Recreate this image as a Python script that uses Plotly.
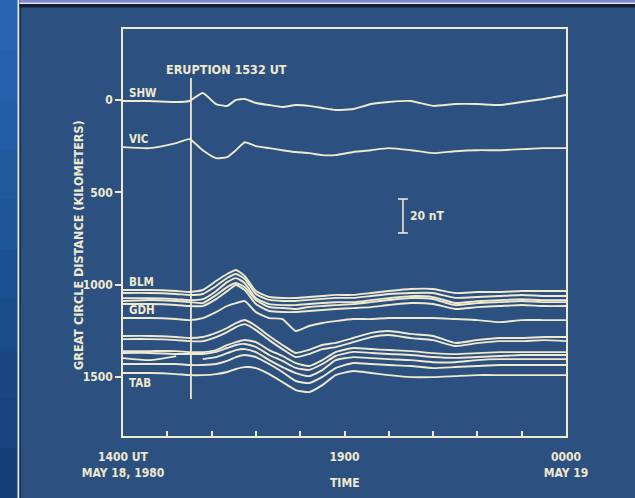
import plotly.graph_objects as go

# ---- data -------------------------------------------------------------
# sample times, hours after 1400 UT on 18 May 1980
TIME_H = [0, 0.6, 1.2, 1.5, 1.8, 2.1, 2.35, 2.55, 2.75, 3.0, 3.3, 3.6, 3.9, 4.2,
          4.5, 4.8, 5.2, 5.6, 6.0, 6.5, 7.0, 7.5, 8.0, 8.5, 9.0, 9.5, 10.0]

ERUPTION_H = 1 + 32 / 60          # 1532 UT

# great-circle distance of each magnetometer (km)
STATION_KM = {
    "SHW": 5, "VIC": 255,
    "BLM": 1029, "S1045": 1045, "S1073": 1073, "S1089": 1089, "S1105": 1105,
    "GDH": 1181, "S1278": 1278, "S1295": 1295,
    "S1360": 1360, "S1370": 1370, "S1398": 1398, "S1430": 1430, "TAB": 1479,
}

# H-component perturbation at each station (nT)
SHW_NT = [0, 0, -0.6, 0, 4.7, -1.8, -2.9, 0.6, 1.2, -1.2, -2.4, -3.5, -2.4, -2.9,
          -4.1, -5.3, -4.7, -1.8, -0.6, 0, -2.9, -1.8, -1.8, -2.4, -0.6, 1.2, 3.5]
VIC_NT = [0, -0.6, 2.4, 4.7, -1.8, -6.5, -5.9, -1.8, 2.9, 0.6, -0.6, -1.8, -2.9, -3.5,
          -4.7, -4.7, -2.9, -1.8, -0.6, -1.8, -3.5, -2.4, -1.8, -1.8, -1.2, -0.6, -0.6]
BLM_NT = [0, 0, -0.6, -1.2, 0, 5.3, 9.4, 11.8, 8.2, -0.6, -4.1, -4.7, -4.7, -4.1,
          -3.5, -2.9, -2.9, -1.8, -0.6, 0.6, 0.6, -1.8, -1.2, -1.2, -0.6, -0.6, -0.6]
S1045_NT = [0, 0, -0.6, -1.2, -0.6, 4.1, 8.8, 11.2, 8.2, -0.6, -4.1, -4.7, -4.7, -4.1,
            -3.5, -2.9, -2.9, -1.8, -0.6, 0, 0, -2.9, -2.4, -1.8, -1.2, -1.8, -1.8]
S1073_NT = [0, 0, -0.6, -1.2, -0.6, 4.1, 9.4, 11.8, 8.8, 0, -3.5, -4.1, -4.1, -3.5,
            -2.9, -2.4, -2.4, -1.2, 0, 1.2, 0.6, -2.9, -1.8, -1.2, -0.6, -1.2, -1.2]
S1089_NT = [0, 0.6, 0, -0.6, -1.2, 3.5, 8.2, 10.6, 8.2, 0.6, -3.5, -4.1, -4.7, -3.5,
            -2.9, -2.4, -1.8, -0.6, 0.6, 1.8, 1.2, -2.4, -1.2, -0.6, 0, -0.6, -0.6]
S1105_NT = [0, 0, -0.6, -1.2, -1.2, 2.9, 7.6, 11.2, 8.2, 0, -4.1, -4.7, -4.7, -4.1,
            -3.5, -2.9, -2.4, -1.8, -0.6, 0.6, 0, -2.9, -1.8, -1.2, -0.6, -1.2, -1.2]
GDH_NT = [0, 0, -0.6, -1.2, 0, 3.5, 7.1, 8.8, 10.0, 3.5, 0, -0.6, -7.6, -4.7,
          -2.9, -1.8, -0.6, -0.6, 0, 0, 0, -0.6, -1.2, -2.4, -1.2, -1.2, -1.2]
S1278_NT = [0, 0, -0.6, -1.2, -0.6, 1.8, 4.7, 7.6, 9.4, 5.9, 0, -5.3, -10.0, -8.2,
            -5.3, -4.1, -1.2, 1.8, 2.9, 1.2, 0, -4.1, -2.4, -1.2, -1.2, -0.6, -0.6]
S1295_NT = [0, 0, -0.6, -1.2, -1.2, 1.2, 4.1, 7.1, 8.8, 5.3, -0.6, -5.9, -10.6, -8.8,
            -5.9, -4.7, -1.8, 1.2, 2.4, 0.6, -0.6, -4.1, -2.4, -1.2, -1.2, -0.6, -1.2]
S1360_NT = [0, 0, 0, -0.6, -0.6, 0.6, 3.5, 5.3, 6.5, 5.3, 0.6, -2.9, -7.1, -8.8,
            -5.3, -0.6, 1.8, 1.2, 0.6, 0, -1.2, -1.8, -1.2, -0.6, -0.6, -0.6, -0.6]
S1370_NT = [0, 0, -0.6, -0.6, -0.6, 0.6, 2.9, 4.7, 5.3, 3.5, -1.2, -4.7, -8.8, -10.0,
            -6.5, -1.8, 0.6, 0, -0.6, -1.2, -2.4, -2.9, -2.4, -1.8, -1.2, -1.2, -1.2]
S1398_NT = [0, -1.2, 1.2, None, -0.6, 0.6, 2.9, 4.7, 5.3, 3.5, -1.2, -5.3, -8.8, -10.6,
            -7.1, -1.2, 0.6, 0, -0.6, -1.2, -2.4, -2.4, -1.2, -0.6, -0.6, -0.6, -0.6]
S1430_NT = [0, 0, 0, -0.6, -0.6, 0, 1.8, 4.1, 5.3, 4.1, 0, -4.7, -10.0, -11.2,
            -7.6, -2.4, 0.6, 0, -0.6, -1.2, -2.4, -1.8, -1.2, -0.6, -0.6, -0.6, -0.6]
TAB_NT = [0, 0, -0.6, -1.2, -1.2, -0.6, 0.6, 2.4, 3.5, 2.9, -0.6, -5.3, -10.0, -11.2,
          -7.1, -1.2, 1.2, 0, -1.2, -2.4, -2.4, -1.8, -1.2, -1.2, -1.2, -1.2, -1.2]

PERTURBATION_NT = {
    "SHW": SHW_NT, "VIC": VIC_NT, "BLM": BLM_NT, "S1045": S1045_NT,
    "S1073": S1073_NT, "S1089": S1089_NT, "S1105": S1105_NT, "GDH": GDH_NT,
    "S1278": S1278_NT, "S1295": S1295_NT, "S1360": S1360_NT, "S1370": S1370_NT,
    "S1398": S1398_NT, "S1430": S1430_NT, "TAB": TAB_NT,
}

LABELLED = ["SHW", "VIC", "BLM", "GDH", "TAB"]
Y_TICKS = [0, 500, 1000, 1500]
X_TICKS = list(range(11))
X_TICKTEXT = ["1400 UT<br>MAY 18, 1980", "", "", "", "", "1900",
              "", "", "", "", "0000<br>MAY 19"]

SCALE_NT = 20          # size of the scale bar
KM_PER_NT = 9.2        # vertical plotting scale of the magnetograms

# ---- style ------------------------------------------------------------
INK = "#efe9cf"
BG = "#2c5080"
FONT = "Liberation Sans Narrow, DejaVu Sans Condensed, Arial Narrow, sans-serif"

W, H = 635, 498
ML, MR, MT, MB = 123, 69, 29, 62
PW, PH = W - ML - MR, H - MT - MB


def px(x, y):
    """page pixel -> paper coordinates (for the slide decoration)"""
    return (x - ML) / PW, (H - MB - y) / PH


fig = go.Figure()

for name, km in STATION_KM.items():
    ys = [None if v is None else km - v * KM_PER_NT for v in PERTURBATION_NT[name]]
    fig.add_trace(go.Scatter(
        x=TIME_H, y=ys, mode="lines", name=name, showlegend=False,
        line=dict(color=INK, width=1.9, shape="spline", smoothing=0.5),
        connectgaps=False, hoverinfo="skip"))

# 20 nT scale bar
bar_x = 6.32
bar_mid = 628
half = SCALE_NT * KM_PER_NT / 2
fig.add_trace(go.Scatter(
    x=[bar_x, bar_x], y=[bar_mid - half, bar_mid + half], mode="lines+markers",
    line=dict(color=INK, width=1.6),
    marker=dict(symbol="line-ew", size=7, line=dict(color=INK, width=1.6)),
    showlegend=False, hoverinfo="skip"))

annotations = []
for name in LABELLED:
    above = name != "TAB"
    annotations.append(dict(
        x=0, y=STATION_KM[name], xref="x", yref="y", text=f"<b>{name}</b>",
        showarrow=False, xanchor="left", yanchor="middle", xshift=4,
        yshift=8 if above else -10, font=dict(size=11.5, color=INK, family=FONT)))

annotations += [
    dict(x=ERUPTION_H, y=-168, xref="x", yref="y", text="<b>ERUPTION 1532 UT</b>",
         showarrow=False, xanchor="left", yanchor="middle", xshift=-27,
         font=dict(size=12.5, color=INK, family=FONT)),
    dict(x=bar_x, y=bar_mid, xref="x", yref="y", text="<b>20 nT</b>",
         showarrow=False, xanchor="left", yanchor="middle", xshift=5,
         font=dict(size=12, color=INK, family=FONT)),
    dict(x=5, y=px(0, 483)[1], xref="x", yref="paper", text="<b>TIME</b>",
         showarrow=False, xanchor="center", yanchor="middle",
         font=dict(size=12, color=INK, family=FONT)),
    dict(x=px(79, 0)[0], y=px(0, 245)[1], xref="paper", yref="paper",
         text="<b>GREAT CIRCLE DISTANCE (KILOMETERS)</b>", textangle=-90,
         showarrow=False, xanchor="center", yanchor="middle",
         font=dict(size=12.5, color=INK, family=FONT)),
]

shapes = [
    # eruption marker
    dict(type="line", xref="x", yref="y", x0=ERUPTION_H, x1=ERUPTION_H,
         y0=-119, y1=1620, line=dict(color=INK, width=1.8)),
]


def rect(x0, y0, x1, y1, color):
    a, b = px(x0, y0)
    c, d = px(x1, y1)
    return dict(type="rect", xref="paper", yref="paper", x0=a, y0=d, x1=c, y1=b,
                fillcolor=color, line=dict(width=0), layer="below")


# slide border: blue side strip (shaded top to bottom) and top rule
strip_colors = ["#2864b0", "#2561ab", "#235da5", "#21599f", "#1f5599",
                "#1c5092", "#1a4c8b", "#184784", "#16437d", "#143f77"]
step = H / len(strip_colors)
shapes += [rect(0, i * step, 18, (i + 1) * step + 0.5, c)
           for i, c in enumerate(strip_colors)]
shapes += [
    rect(17.5, 0, 19.5, 498, "#e3e8f2"),
    rect(19.5, 0, 21, 498, "#1a2c4a"),
    rect(19.5, 0, 635, 2.5, "#8084d2"),
    rect(19.5, 2.5, 635, 4, "#eceaf8"),
    rect(19.5, 4, 635, 7.5, "#141e38"),
]

fig.update_layout(
    width=W, height=H,
    margin=dict(l=ML, r=MR, t=MT, b=MB),
    paper_bgcolor=BG, plot_bgcolor=BG,
    font=dict(family=FONT, color=INK, size=12),
    shapes=shapes, annotations=annotations,
    xaxis=dict(range=[0, 10], tickvals=X_TICKS, ticktext=X_TICKTEXT,
               ticks="inside", ticklen=5, tickwidth=1.5, tickcolor=INK,
               showline=True, linecolor=INK, linewidth=1.6, mirror=True,
               showgrid=False, zeroline=False, ticklabelstandoff=9,
               tickfont=dict(size=12, color=INK, family=FONT, weight="bold")),
    yaxis=dict(range=[1820, -385], tickvals=Y_TICKS,
               ticks="outside", ticklen=6, tickwidth=1.5, tickcolor=INK,
               showline=True, linecolor=INK, linewidth=1.6, mirror=True,
               showgrid=False, zeroline=False,
               tickfont=dict(size=12, color=INK, family=FONT, weight="bold")),
)

fig.write_html("out.html")
